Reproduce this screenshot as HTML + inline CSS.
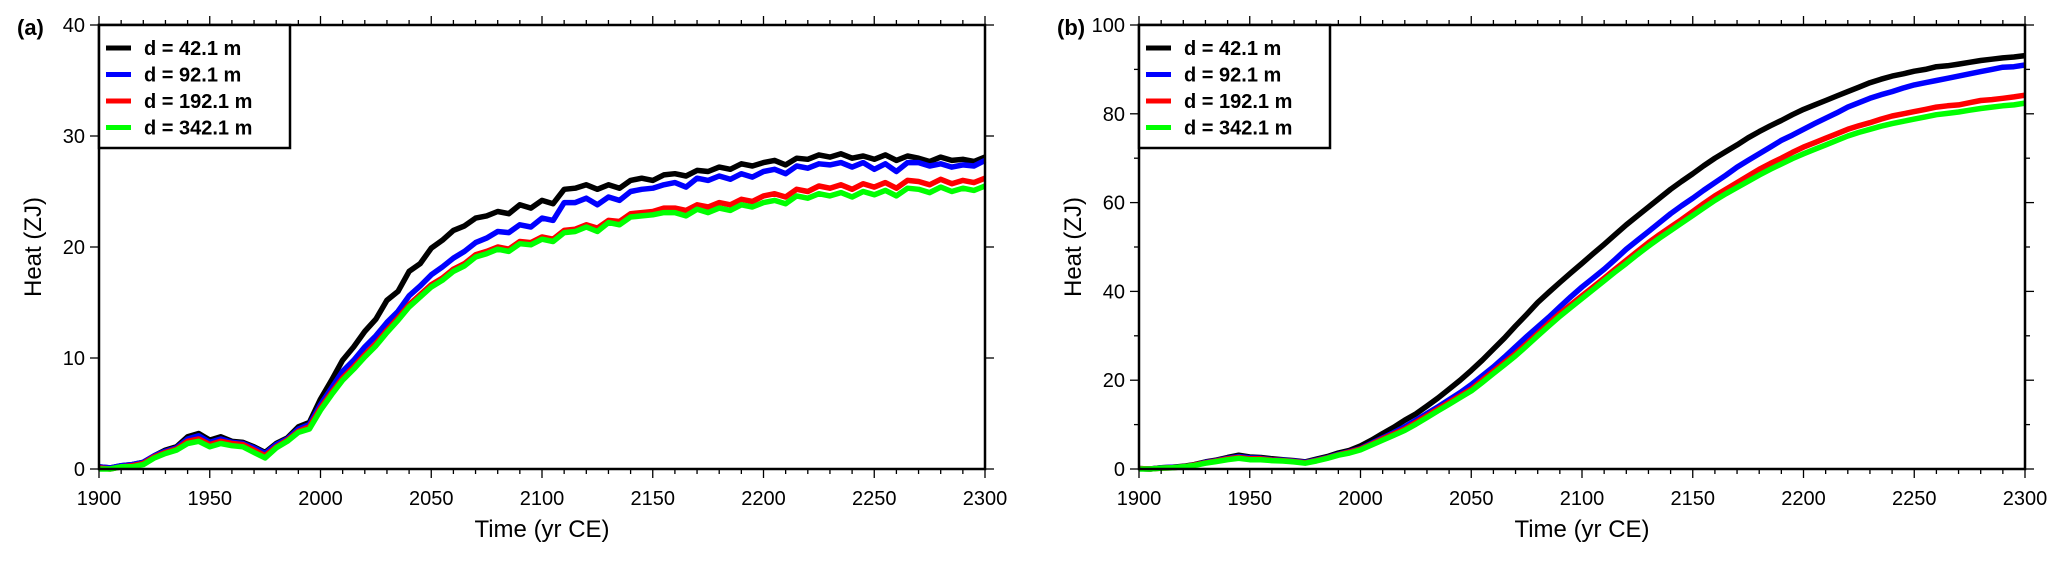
<!DOCTYPE html>
<html><head><meta charset="utf-8">
<style>
html,body{margin:0;padding:0;background:#fff;}
svg{display:block;font-family:"Liberation Sans",Arial,sans-serif;}
</style></head>
<body>
<svg id="chart" width="2067" height="561" viewBox="0 0 2067 561" xmlns="http://www.w3.org/2000/svg"></svg>
<script>
const xTicks = [1900,1950,2000,2050,2100,2150,2200,2250,2300];
const yTicksA = [0,10,20,30,40];
const yTicksB = [0,20,40,60,80,100];
const seriesNames = ["d = 42.1 m","d = 92.1 m","d = 192.1 m","d = 342.1 m"];
const seriesColors = ["#000000","#0000ff","#ff0000","#00ff00"];
const startYear = 1900;
const stepYears = 5;

const a_black = [0.2,0.1,0.3,0.4,0.6,1.2,1.7,2.0,2.9,3.2,2.6,2.9,2.5,2.4,2.0,1.5,2.3,2.8,3.8,4.2,6.3,8.0,9.8,11.0,12.4,13.5,15.2,16.0,17.8,18.5,19.9,20.6,21.5,21.9,22.6,22.8,23.2,23.0,23.8,23.5,24.2,23.9,25.2,25.3,25.6,25.2,25.6,25.3,26.0,26.2,26.0,26.5,26.6,26.4,26.9,26.8,27.2,27.0,27.5,27.3,27.6,27.8,27.4,28.0,27.9,28.3,28.1,28.4,28.0,28.2,27.9,28.3,27.8,28.2,28.0,27.7,28.1,27.8,27.9,27.7,28.1];
const a_blue = [0.2,0.1,0.3,0.4,0.6,1.2,1.6,1.9,2.7,3.0,2.4,2.7,2.4,2.3,1.9,1.4,2.2,2.7,3.6,4.0,5.8,7.3,8.8,9.8,11.0,12.0,13.2,14.2,15.6,16.5,17.5,18.2,19.0,19.6,20.4,20.8,21.4,21.3,22.0,21.8,22.6,22.4,24.0,24.0,24.4,23.8,24.5,24.2,25.0,25.2,25.3,25.6,25.8,25.4,26.2,26.0,26.4,26.1,26.6,26.3,26.8,27.0,26.6,27.3,27.1,27.5,27.4,27.6,27.2,27.6,27.0,27.5,26.8,27.6,27.6,27.3,27.5,27.2,27.4,27.3,27.8];
const a_red = [0.1,0.0,0.2,0.3,0.5,1.1,1.5,1.8,2.5,2.7,2.2,2.5,2.3,2.2,1.7,1.2,2.0,2.6,3.4,3.8,5.5,6.9,8.2,9.2,10.3,11.3,12.5,13.6,14.8,15.7,16.6,17.2,18.0,18.5,19.3,19.6,20.0,19.8,20.5,20.4,20.9,20.7,21.5,21.6,22.0,21.7,22.4,22.3,23.0,23.1,23.2,23.5,23.5,23.3,23.8,23.6,24.0,23.8,24.3,24.1,24.6,24.8,24.5,25.2,25.0,25.5,25.3,25.6,25.2,25.7,25.4,25.8,25.3,26.0,25.9,25.6,26.1,25.7,26.0,25.8,26.2];
const a_green = [0.0,0.0,0.2,0.2,0.4,1.0,1.4,1.7,2.3,2.5,2.0,2.3,2.1,2.0,1.5,1.0,1.9,2.5,3.3,3.6,5.3,6.7,8.0,9.0,10.1,11.1,12.3,13.4,14.6,15.5,16.4,17.0,17.8,18.3,19.1,19.4,19.8,19.6,20.3,20.2,20.7,20.5,21.3,21.4,21.8,21.4,22.2,22.0,22.7,22.8,22.9,23.1,23.1,22.8,23.4,23.1,23.5,23.3,23.8,23.6,24.0,24.2,23.9,24.6,24.4,24.8,24.6,24.9,24.5,25.0,24.7,25.1,24.6,25.3,25.2,24.9,25.4,25.0,25.3,25.1,25.5];

const b_black = [0.1,0.0,0.3,0.4,0.6,1.0,1.6,2.0,2.6,3.1,2.7,2.6,2.3,2.1,1.9,1.6,2.2,2.8,3.6,4.2,5.2,6.5,8.0,9.4,11.0,12.4,14.2,16.0,18.0,20.0,22.2,24.5,27.0,29.5,32.2,34.8,37.5,39.8,42.0,44.2,46.3,48.5,50.6,52.8,55.0,57.0,59.0,61.0,63.0,64.8,66.5,68.3,70.0,71.5,73.0,74.6,76.0,77.3,78.5,79.8,81.0,82.0,83.0,84.0,85.0,86.0,87.0,87.8,88.5,89.0,89.6,90.0,90.6,90.8,91.2,91.6,92.0,92.3,92.6,92.8,93.1];
const b_blue = [0.1,0.0,0.3,0.4,0.5,0.9,1.5,1.9,2.4,2.8,2.5,2.4,2.1,2.0,1.8,1.5,2.0,2.6,3.3,3.9,4.6,5.8,7.0,8.2,9.5,11.0,12.5,14.0,15.6,17.2,19.0,21.0,23.0,25.2,27.5,29.8,32.0,34.2,36.5,38.8,41.0,43.0,45.0,47.2,49.5,51.5,53.5,55.5,57.5,59.3,61.0,62.8,64.5,66.2,68.0,69.5,71.0,72.5,74.0,75.2,76.5,77.8,79.0,80.2,81.5,82.5,83.5,84.3,85.0,85.8,86.5,87.0,87.5,88.0,88.5,89.0,89.5,90.0,90.5,90.6,91.0];
const b_red = [0.1,0.0,0.2,0.3,0.5,0.9,1.4,1.8,2.3,2.6,2.3,2.3,2.0,1.9,1.7,1.4,1.9,2.5,3.2,3.8,4.5,5.6,6.8,7.9,9.0,10.5,12.0,13.5,15.0,16.5,18.0,20.0,22.0,24.0,26.0,28.2,30.5,32.8,35.0,37.0,39.0,41.0,43.0,45.0,47.0,49.0,51.0,52.8,54.5,56.2,58.0,59.8,61.5,63.0,64.5,66.0,67.5,68.8,70.0,71.3,72.5,73.5,74.5,75.5,76.5,77.3,78.0,78.8,79.5,80.0,80.5,81.0,81.5,81.8,82.0,82.5,83.0,83.2,83.5,83.8,84.2];
const b_green = [0.0,0.0,0.2,0.3,0.5,0.8,1.3,1.7,2.1,2.4,2.1,2.1,1.9,1.8,1.6,1.3,1.8,2.4,3.1,3.6,4.3,5.4,6.5,7.6,8.7,10.1,11.6,13.1,14.6,16.1,17.6,19.5,21.5,23.5,25.5,27.7,30.0,32.2,34.4,36.4,38.4,40.4,42.4,44.4,46.3,48.3,50.2,52.0,53.7,55.4,57.1,58.8,60.5,62.0,63.4,64.8,66.2,67.5,68.7,69.9,71.0,72.0,73.0,74.0,75.0,75.8,76.5,77.2,77.8,78.3,78.8,79.3,79.8,80.1,80.4,80.8,81.2,81.5,81.8,82.0,82.4];

const NS = "http://www.w3.org/2000/svg";
const svg = document.getElementById("chart");
function mk(tag, attrs, parent){
  const e = document.createElementNS(NS, tag);
  for (const k in attrs) e.setAttribute(k, attrs[k]);
  (parent||svg).appendChild(e);
  return e;
}

function panel(opts){
  const L = opts.left, R = opts.left + 886, T = 25, B = 469;
  const g = mk("g", {});
  
  
  const xs = v => L + (v - 1900) / 400 * (R - L);
  const ys = v => B - v / opts.ymax * (B - T);

  const sg = mk("g", {fill:"none","stroke-width":"5.5","stroke-linejoin":"round"}, g);
  opts.series.forEach((arr, si) => {
    const pts = arr.map((v, i) => xs(startYear + i*stepYears).toFixed(1) + "," + ys(v).toFixed(1)).join(" ");
    const pl = mk("polyline", {points: pts, stroke: seriesColors[si]}, sg);
    
    
  });

  const fr = mk("rect", {x:L, y:T, width:R-L, height:B-T, fill:"none", stroke:"#000", "stroke-width":"2.5"}, g);
  
  

  for (let yr = 1900; yr <= 2300; yr += 10){
    const major = (yr % 50 === 0);
    const len = major ? 9 : 5;
    const x = xs(yr);
    mk("line", {x1:x, x2:x, y1:B, y2:B+len, stroke:"#000","stroke-width":"1.3"}, g);
    mk("line", {x1:x, x2:x, y1:T, y2:T-len, stroke:"#000","stroke-width":"1.3"}, g);
  }
  xTicks.forEach(v => {
    const t = mk("text", {x:xs(v), y:505, "text-anchor":"middle","font-size":"20"}, g);
    t.textContent = v;
    
    
  });
  for (let v = 0; v <= opts.ymax; v += opts.yminor){
    const major = opts.yTicks.includes(v);
    const len = major ? 9 : 5;
    const y = ys(v);
    mk("line", {x1:L-len, x2:L, y1:y, y2:y, stroke:"#000","stroke-width":"1.3"}, g);
    mk("line", {x1:R, x2:R+len, y1:y, y2:y, stroke:"#000","stroke-width":"1.3"}, g);
  }
  opts.yTicks.forEach(v => {
    const t = mk("text", {x:L-14, y:ys(v)+7, "text-anchor":"end","font-size":"20"}, g);
    t.textContent = v;
    
    
  });
  const xt = mk("text", {x:(L+R)/2, y:537, "text-anchor":"middle","font-size":"24"}, g);
  xt.textContent = "Time (yr CE)";
  
  
  const yt = mk("text", {x:0, y:0, "text-anchor":"middle","font-size":"24", transform:"translate(" + (L-58) + "," + ((T+B)/2) + ") rotate(-90)"}, g);
  yt.textContent = "Heat (ZJ)";
  
  
  const pl = mk("text", {x:L-82, y:35, "font-size":"22","font-weight":"bold"}, g);
  pl.textContent = opts.label;
  
  

  const lg = mk("g", {}, g);
  
  
  mk("rect", {x:L, y:T, width:191, height:123, fill:"#fff", stroke:"#000","stroke-width":"2.5"}, lg);
  seriesNames.forEach((n, i) => {
    const y = 48 + i*26.5;
    const ln = mk("line", {x1:L+7, x2:L+32, y1:y, y2:y, stroke:seriesColors[i], "stroke-width":"5"}, lg);
    
    
    const t = mk("text", {x:L+45, y:y+7, "font-size":"20","font-weight":"bold"}, lg);
    t.textContent = n;
    
    
  });
}

panel({id:"panel-a", left:99, ymax:40, yminor:10, yTicks:yTicksA, label:"(a)", series:[a_black,a_blue,a_red,a_green]});
panel({id:"panel-b", left:1139, ymax:100, yminor:10, yTicks:yTicksB, label:"(b)", series:[b_black,b_blue,b_red,b_green]});
</script>
</body></html>
